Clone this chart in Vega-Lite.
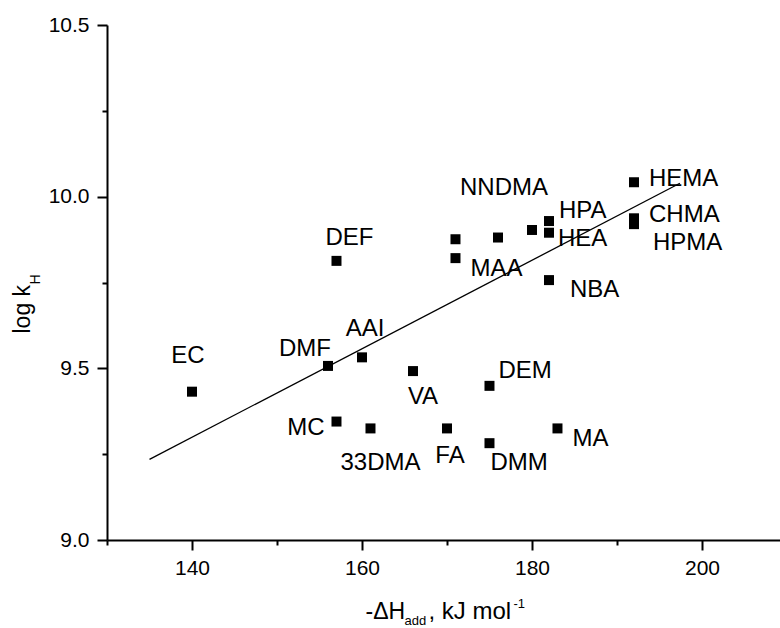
{
  "$schema": "https://vega.github.io/schema/vega-lite/v6.json",
  "width": 673,
  "height": 515,
  "autosize": {"type": "none"},
  "padding": {"left": 107, "top": 25, "right": 0, "bottom": 88},
  "background": "white",
  "config": {
    "view": {"stroke": null},
    "font": "Liberation Sans",
    "axis": {
      "grid": false,
      "domainColor": "black",
      "domainWidth": 2,
      "tickColor": "black",
      "tickWidth": 2,
      "labelColor": "black",
      "titleColor": "black",
      "labelFont": "Liberation Sans",
      "titleFont": "Liberation Sans",
      "labelFontSize": 21,
      "titleFontSize": 23,
      "titleFontWeight": "normal",
      "labelFlush": false,
      "labelOverlap": false,
      "titleAlign": "left",
      "titleBaseline": "alphabetic"
    },
    "text": {"font": "Liberation Sans", "fontSize": 24, "color": "black", "baseline": "alphabetic"}
  },
  "datasets": {
    "pts": [
      {"name": "EC", "x": 140, "y": 9.432},
      {"name": "DMF", "x": 156, "y": 9.507},
      {"name": "AAI", "x": 160, "y": 9.532},
      {"name": "VA", "x": 166, "y": 9.492},
      {"name": "MC", "x": 157, "y": 9.345},
      {"name": "33DMA", "x": 161, "y": 9.325},
      {"name": "FA", "x": 170, "y": 9.325},
      {"name": "DEM", "x": 175, "y": 9.449},
      {"name": "DMM", "x": 175, "y": 9.282},
      {"name": "MA", "x": 183, "y": 9.325},
      {"name": "DEF", "x": 157, "y": 9.813},
      {"name": "", "x": 171, "y": 9.876},
      {"name": "MAA", "x": 171, "y": 9.821},
      {"name": "NNDMA", "x": 176, "y": 9.881},
      {"name": "", "x": 180, "y": 9.903},
      {"name": "HPA", "x": 182, "y": 9.929},
      {"name": "HEA", "x": 182, "y": 9.895},
      {"name": "NBA", "x": 182, "y": 9.757},
      {"name": "HEMA", "x": 192, "y": 10.042},
      {"name": "CHMA", "x": 192, "y": 9.937},
      {"name": "HPMA", "x": 192, "y": 9.92}
    ],
    "fit": [
      {"x": 135, "y": 9.235},
      {"x": 197.4, "y": 10.039}
    ]
  },
  "resolve": {"scale": {"x": "independent", "y": "independent"}},
  "layer": [
    {
      "data": {"name": "pts"},
      "encoding": {
        "x": {"field": "x", "type": "quantitative", "scale": {"domain": [130, 209.18], "nice": false, "zero": false},
          "axis": {"orient": "bottom", "values": [140, 160, 180, 200], "tickSize": 10, "labelPadding": 7, "title": "-ΔH", "titleX": 258, "titleY": 78, "titleAngle": 0}},
        "y": {"field": "y", "type": "quantitative", "scale": {"domain": [9, 10.5], "nice": false, "zero": false},
          "axis": {"orient": "left", "values": [9, 9.5, 10, 10.5], "format": ".1f", "tickSize": 10, "labelPadding": 8, "title": "log k", "titleX": -77.5, "titleY": 308, "titleAngle": 270}}
      },
      "layer": [
        {"mark": {"type": "square", "size": 100, "color": "black", "opacity": 1}},
        {"transform": [{"filter": {"field": "name", "equal": "HPA"}}], "mark": {"type": "text", "align": "left", "dx": 10, "dy": -3}, "encoding": {"text": {"field": "name"}}},
        {"transform": [{"filter": {"field": "name", "equal": "DEM"}}], "mark": {"type": "text", "align": "left", "dx": 9, "dy": -8}, "encoding": {"text": {"field": "name"}}},
        {"transform": [{"filter": {"field": "name", "equal": "HEA"}}], "mark": {"type": "text", "align": "left", "dx": 9, "dy": 13}, "encoding": {"text": {"field": "name"}}},
        {"transform": [{"filter": {"field": "name", "oneOf": ["HEMA", "CHMA"]}}], "mark": {"type": "text", "align": "left", "dx": 15, "dy": 4}, "encoding": {"text": {"field": "name"}}},
        {"transform": [{"filter": {"field": "name", "equal": "NBA"}}], "mark": {"type": "text", "align": "left", "dx": 21, "dy": 17}, "encoding": {"text": {"field": "name"}}},
        {"transform": [{"filter": {"field": "name", "equal": "HPMA"}}], "mark": {"type": "text", "align": "left", "dx": 19, "dy": 26}, "encoding": {"text": {"field": "name"}}},
        {"transform": [{"filter": {"field": "name", "equal": "DMM"}}], "mark": {"type": "text", "align": "left", "dx": 1, "dy": 27}, "encoding": {"text": {"field": "name"}}},
        {"transform": [{"filter": {"field": "name", "equal": "EC"}}], "mark": {"type": "text", "align": "center", "dx": -4, "dy": -29}, "encoding": {"text": {"field": "name"}}},
        {"transform": [{"filter": {"field": "name", "equal": "AAI"}}], "mark": {"type": "text", "align": "center", "dx": 3, "dy": -21}, "encoding": {"text": {"field": "name"}}},
        {"transform": [{"filter": {"field": "name", "equal": "VA"}}], "mark": {"type": "text", "align": "center", "dx": 10, "dy": 33}, "encoding": {"text": {"field": "name"}}},
        {"transform": [{"filter": {"field": "name", "equal": "33DMA"}}], "mark": {"type": "text", "align": "center", "dx": 10, "dy": 42}, "encoding": {"text": {"field": "name"}}},
        {"transform": [{"filter": {"field": "name", "equal": "FA"}}], "mark": {"type": "text", "align": "center", "dx": 3, "dy": 35}, "encoding": {"text": {"field": "name"}}},
        {"transform": [{"filter": {"field": "name", "equal": "DEF"}}], "mark": {"type": "text", "align": "center", "dx": 13, "dy": -16}, "encoding": {"text": {"field": "name"}}},
        {"transform": [{"filter": {"field": "name", "equal": "NNDMA"}}], "mark": {"type": "text", "align": "center", "dx": 6, "dy": -43}, "encoding": {"text": {"field": "name"}}}
      ]
    },
    {
      "data": {"name": "fit"},
      "mark": {"type": "line", "color": "black", "strokeWidth": 1.3},
      "encoding": {
        "x": {"field": "x", "type": "quantitative", "scale": {"domain": [130, 209.18], "nice": false, "zero": false},
          "axis": {"orient": "bottom", "values": [130, 150, 170, 190], "tickSize": 5, "labels": false, "domain": false, "title": "add", "titleFontSize": 13, "titleX": 297, "titleY": 84.5, "titleAngle": 0}},
        "y": {"field": "y", "type": "quantitative", "scale": {"domain": [9, 10.5], "nice": false, "zero": false},
          "axis": {"orient": "left", "values": [9.25, 9.75, 10.25], "tickSize": 5, "labels": false, "domain": false, "title": "H", "titleFontSize": 14, "titleX": -68, "titleY": 259, "titleAngle": 270}}
      }
    },
    {
      "data": {"name": "pts"},
      "encoding": {
        "x": {"field": "x", "type": "quantitative", "scale": {"domain": [130, 209.18], "nice": false, "zero": false},
          "axis": {"orient": "bottom", "domain": false, "ticks": false, "labels": false, "title": ", kJ mol", "titleFontSize": 24, "titleX": 321, "titleY": 78, "titleAngle": 0}},
        "y": {"field": "y", "type": "quantitative", "scale": {"domain": [9, 10.5], "nice": false, "zero": false}, "axis": null}
      },
      "layer": [
        {"transform": [{"filter": {"field": "name", "oneOf": ["MA", "MAA"]}}], "mark": {"type": "text", "align": "left", "dx": 15, "dy": 17.5}, "encoding": {"text": {"field": "name"}}}
      ]
    },
    {
      "data": {"name": "pts"},
      "encoding": {
        "x": {"field": "x", "type": "quantitative", "scale": {"domain": [130, 209.18], "nice": false, "zero": false},
          "axis": {"orient": "bottom", "domain": false, "ticks": false, "labels": false, "title": "-1", "titleFontSize": 13, "titleX": 406, "titleY": 67.5, "titleAngle": 0}},
        "y": {"field": "y", "type": "quantitative", "scale": {"domain": [9, 10.5], "nice": false, "zero": false}, "axis": null}
      },
      "layer": [
        {"transform": [{"filter": {"field": "name", "equal": "DMF"}}], "mark": {"type": "text", "align": "right", "dx": 3, "dy": -10}, "encoding": {"text": {"field": "name"}}},
        {"transform": [{"filter": {"field": "name", "equal": "MC"}}], "mark": {"type": "text", "align": "right", "dx": -12, "dy": 13}, "encoding": {"text": {"field": "name"}}}
      ]
    }
  ]
}
